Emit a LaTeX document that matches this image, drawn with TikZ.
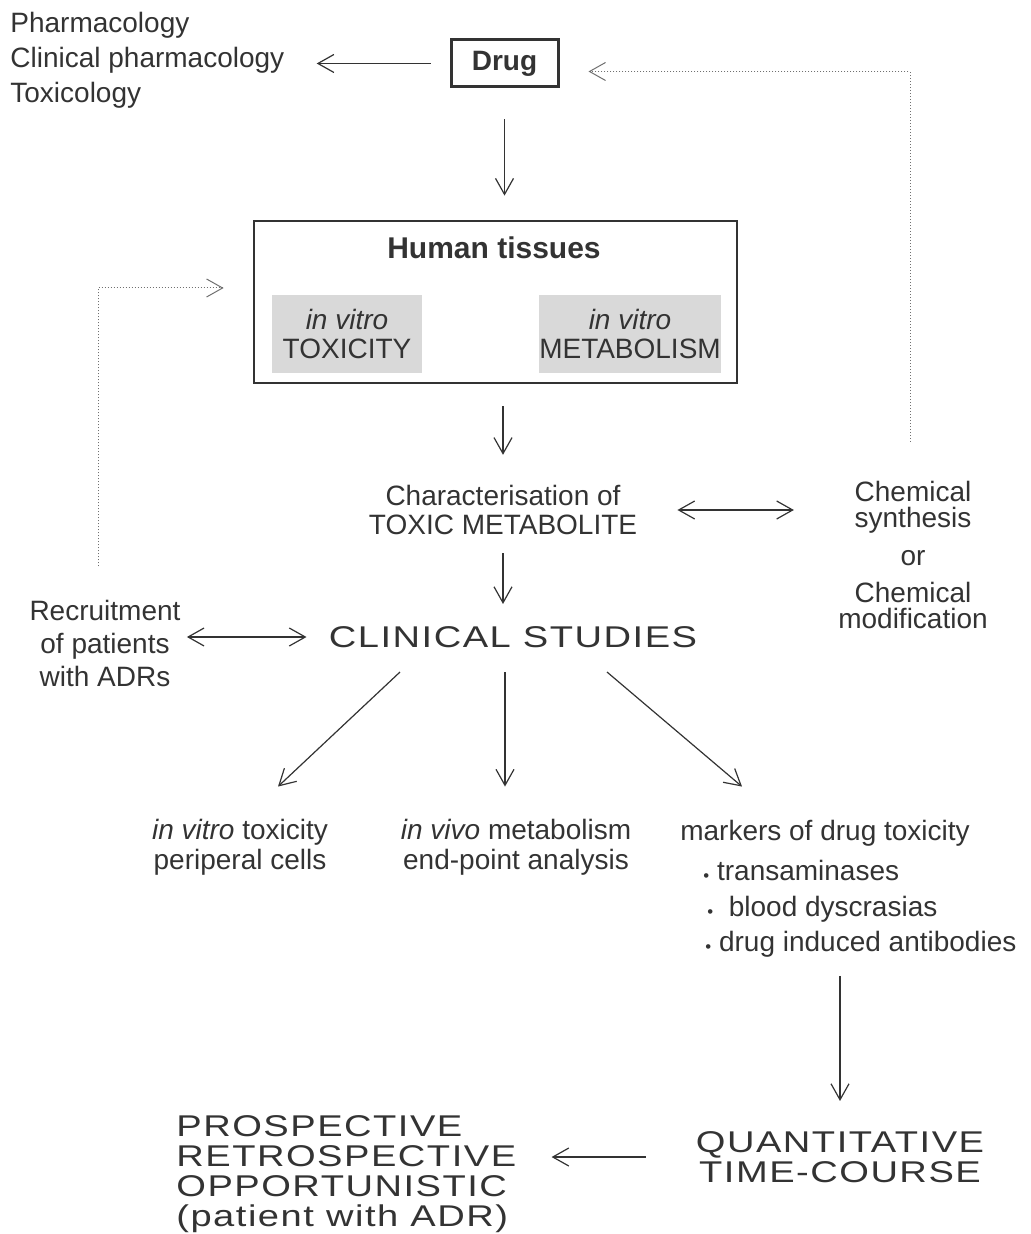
\documentclass[tikz,border=0pt]{standalone}
\usepackage{fontspec}
\setmainfont{Liberation Sans}
\newfontfamily\widefont[FakeStretch=1.27, LetterSpace=5]{Liberation Sans}
\usetikzlibrary{arrows.meta,positioning}
\colorlet{ink}{black!80}
\newcommand\dotitem{\raisebox{-0.5pt}{\scalebox{0.6}{\textbullet}}\ }
\tikzset{
  every node/.style={text=ink, inner sep=0pt},
  arr/.style={draw=ink, line width=0.6pt, -{Straight Barb[length=8pt,width=9pt]}},
  dbl/.style={arr, {Straight Barb[length=8pt,width=9pt]}-{Straight Barb[length=8pt,width=9pt]}},
  dotarr/.style={arr, draw=ink!70, line width=0.5pt, densely dotted},
  txt/.style={font=\fontsize{14}{17.5}\selectfont, align=center},
  big/.style={font=\widefont\fontsize{15}{15.5}\selectfont, align=center},
  greybox/.style={fill=black!15, minimum height=39pt, txt, font=\fontsize{14}{14.5}\selectfont}
}
\begin{document}
\begin{tikzpicture}[x=0.5pt,y=-0.5pt]
    \useasboundingbox (0,0) rectangle (1030,1234);
    % top row
    \node[txt, align=left, anchor=north west] (pharm) at (10,12) {Pharmacology\\Clinical pharmacology\\Toxicology};
    \node[draw=ink, line width=1.5pt, minimum width=53.5pt, minimum height=23.5pt,
          font=\fontsize{14}{14}\selectfont\bfseries] (drug) at (504.5,63.5) {Drug};
    % human tissues
    \node[draw=ink, line width=1.4pt, minimum width=241.5pt, minimum height=81pt] (tissues) at (495.5,302) {};
    \node[font=\fontsize{15}{15}\selectfont\bfseries] (title) at (494,248) {Human tissues};
    \node[greybox, minimum width=75pt] (tox) at (347,334) {\textit{in vitro}\\TOXICITY};
    \node[greybox, minimum width=89pt] (meta) at (630,334) {\textit{in vitro}\\METABOLISM};
    % middle
    \node[txt, font=\fontsize{14}{14.5}\selectfont] (char) at (503,510) {Characterisation of\\TOXIC METABOLITE};
    \node[txt, font=\fontsize{14}{13}\selectfont] (chem) at (913,555) {Chemical\\synthesis\\[6pt]or\\[5.5pt]Chemical\\modification};
    \node[big] (clinical) at (513,637) {CLINICAL STUDIES};
    \node[txt, font=\fontsize{14}{16.5}\selectfont] (recruit) at (105,643) {Recruitment\\of patients\\with ADRs};
    % outcomes
    \node[txt, font=\fontsize{14}{15}\selectfont] (vitro) at (240,847) {\textit{in vitro} toxicity\\periperal cells};
    \node[txt, font=\fontsize{14}{15}\selectfont] (vivo) at (516,847) {\textit{in vivo} metabolism\\end-point analysis};
    \node[txt] (markers) at (825,833) {markers of drug toxicity};
    \node[txt, align=left, font=\fontsize{14}{17.75}\selectfont, anchor=north west] (list) at (703,860)
        {\dotitem transaminases\\ \hspace*{2pt}\dotitem\ blood dyscrasias\\ \hspace*{1pt}\dotitem drug induced antibodies};
    % bottom
    \node[big, font=\widefont\fontsize{15}{15}\selectfont] (quant) at (840,1157) {QUANTITATIVE\\TIME-COURSE};
    \node[big, align=left, anchor=north west, font=\widefont\fontsize{15}{15}\selectfont] (prosp) at (176,1115)
        {PROSPECTIVE\\RETROSPECTIVE\\OPPORTUNISTIC\\(patient with ADR)};
    % arrows
    \draw[arr, shorten <=9.5pt, shorten >=16pt] (drug.west) -- (drug.west -| pharm.east);
    \draw[arr, shorten <=15.5pt, shorten >=12pt] (drug.south) -- (drug.south |- tissues.north);
    \draw[dotarr] ([xshift=-1.5pt,yshift=19.5pt]chem.north) |- ([xshift=14.5pt,yshift=-4pt]drug.east);
    \draw[dotarr] ([xshift=-3.5pt,yshift=16.5pt]recruit.north) |- ([xshift=-14.5pt,yshift=7pt]tissues.west);
    \draw[arr, shorten <=11pt, shorten >=15pt] (tissues.south -| char.north) -- (char.north);
    \draw[dbl, shorten <=20pt, shorten >=22pt] (char.east) -- (char.east -| chem.west);
    \draw[arr, shorten <=9pt, shorten >=11pt] (char.south) -- (char.south |- clinical.north);
    \draw[dbl, shorten <=3pt, shorten >=11pt] (recruit.east |- clinical.west) -- (clinical.west);
    \draw[arr] ([xshift=-56.5pt,yshift=-12pt]clinical.south) -- ([xshift=19pt,yshift=16pt]vitro.north);
    \draw[arr] ([xshift=-4pt,yshift=-12pt]clinical.south) -- ([xshift=-5.5pt,yshift=16pt]vivo.north);
    \draw[arr] ([xshift=47pt,yshift=-12pt]clinical.south) -- ([xshift=-41.5pt,yshift=16.5pt]markers.north);
    \draw[arr, shorten <=9pt, shorten >=15pt] (quant.north |- list.south) -- (quant.north);
    \draw[arr, shorten <=25pt, shorten >=17.5pt] (quant.west) -- (quant.west -| prosp.east);
\end{tikzpicture}
\end{document}
